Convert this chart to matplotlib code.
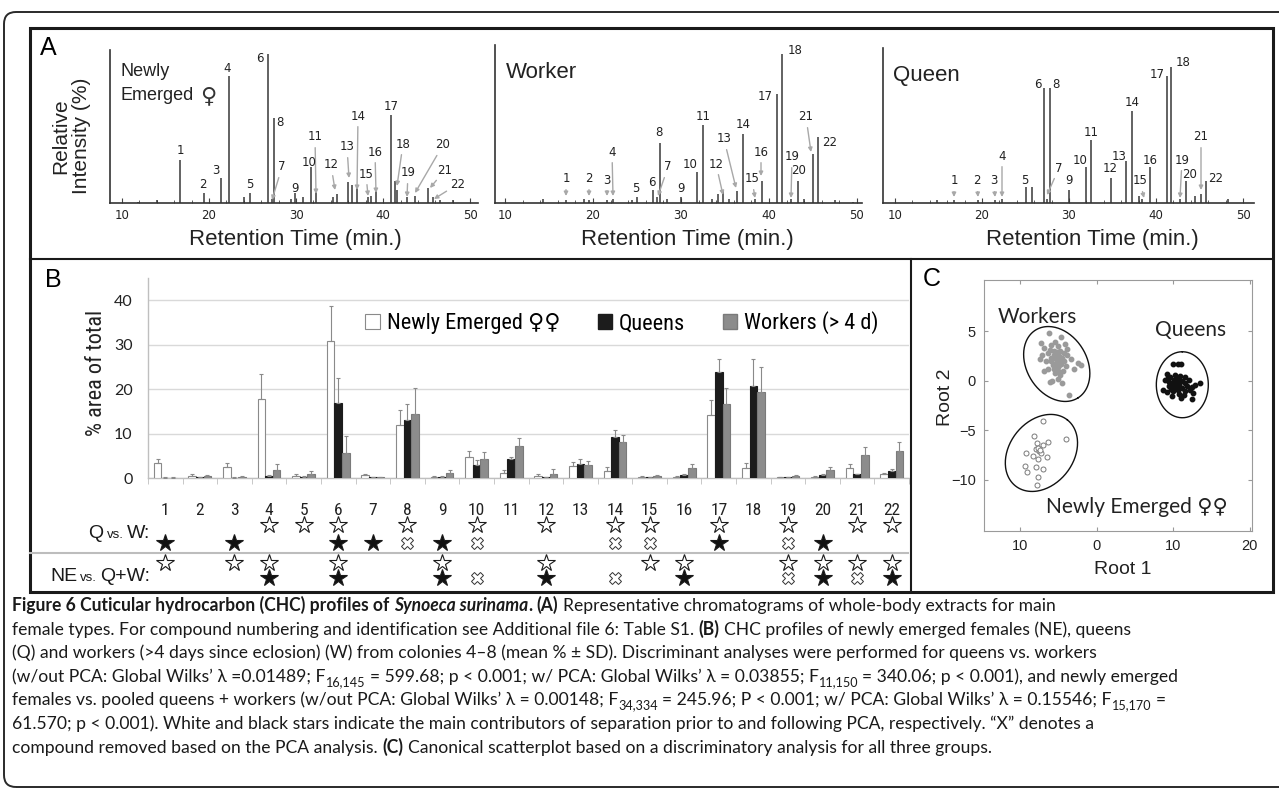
import matplotlib
matplotlib.use('Agg')
import matplotlib.pyplot as plt
from matplotlib import font_manager
from matplotlib.patches import Rectangle, FancyBboxPatch, Patch
from matplotlib.lines import Line2D
from matplotlib.transforms import IdentityTransform
from matplotlib.font_manager import FontProperties
import numpy as np

# ---------------- data ----------------
# Panel A: chromatogram peaks (retention time, relative intensity %)
ne_rt = [11.8, 14.0, 16.7, 19.4, 21.4, 22.3, 24.0, 24.7, 26.8, 27.2, 27.5, 29.4, 29.9, 30.8, 31.7, 32.3,
         34.2, 34.7, 36.0, 36.4, 37.0, 38.3, 38.6, 39.2, 40.9, 41.4, 41.6, 42.8, 43.7, 45.2, 45.7, 46.5, 48.0]
ne_h = [1, 2, 29, 7, 17, 85, 4, 7, 100, 3, 57, 3, 7, 4, 24, 8,
        4, 6, 14, 12, 10, 4, 5, 8, 59, 15, 9, 4, 5, 10, 4, 2, 2]
wk_rt = [14.3, 16.9, 19.0, 19.5, 21.6, 22.3, 24.4, 25.0, 26.8, 27.3, 27.6, 28.4, 30.0, 31.8, 32.5, 33.5,
         34.2, 34.8, 35.5, 36.4, 37.0, 38.4, 39.2, 40.9, 41.5, 42.5, 43.3, 44.0, 45.0, 45.6, 47.5, 49.5]
wk_h = [3, 2, 3, 2, 2, 3, 2, 4, 9, 4, 40, 3, 4, 21, 52, 3,
        6, 9, 3, 8, 46, 3, 15, 73, 100, 3, 15, 3, 33, 44, 2, 1]
qn_rt = [14.8, 16.8, 19.5, 21.5, 22.3, 25.1, 25.7, 27.1, 27.5, 27.8, 30.0, 32.0, 32.5, 34.8, 36.6, 37.2,
         38.0, 38.4, 39.3, 41.3, 41.7, 42.8, 43.5, 44.5, 45.2, 45.7, 48.3]
qn_h = [2, 2, 2, 2, 3, 11, 11, 77, 3, 77, 9, 24, 42, 17, 28, 62,
        5, 3, 24, 85, 91, 3, 15, 5, 6, 15, 3]
rt_ticks = [10, 20, 30, 40, 50]

# Panel B: % area of total (mean and SD) for compounds 1-22
compounds = list(range(1, 23))
ne_mean = [3.4, 0.5, 2.5, 17.8, 0.5, 30.8, 0.6, 12.0, 0.3, 4.7, 1.1, 0.4, 2.7, 1.6, 0.3, 0.2, 14.2, 2.2, 0.2, 0.3, 2.3, 0.8]
ne_sd = [0.9, 0.3, 0.8, 5.6, 0.3, 7.9, 0.2, 3.3, 0.2, 1.3, 0.6, 0.4, 0.8, 0.8, 0.1, 0.2, 3.3, 1.1, 0.1, 0.2, 0.8, 0.3]
q_mean = [0.1, 0.2, 0.1, 0.4, 0.3, 16.9, 0.2, 13.0, 0.3, 3.0, 4.3, 0.2, 3.2, 9.3, 0.2, 0.7, 23.8, 20.7, 0.2, 0.6, 0.8, 1.6]
q_sd = [0.1, 0.1, 0.1, 0.2, 0.1, 5.6, 0.1, 3.6, 0.2, 1.0, 0.4, 0.1, 1.1, 1.4, 0.1, 0.2, 2.9, 6.0, 0.1, 0.2, 0.2, 0.4]
w_mean = [0.1, 0.4, 0.3, 1.8, 0.8, 5.6, 0.2, 14.3, 1.2, 4.3, 7.2, 1.0, 2.9, 8.1, 0.5, 2.2, 16.6, 19.3, 0.5, 1.8, 5.2, 6.0]
w_sd = [0.1, 0.3, 0.2, 1.3, 0.8, 3.9, 0.1, 5.9, 0.7, 1.6, 1.8, 1.0, 1.0, 1.5, 0.2, 0.9, 3.6, 5.6, 0.2, 0.6, 1.8, 2.2]
legend_labels = ['Newly Emerged \u2640\u2640', 'Queens', 'Workers (> 4 d)']
b_yticks = [0, 10, 20, 30, 40]

# Star markers (compound numbers)
qw_white = [4, 5, 6, 8, 10, 12, 14, 15, 17, 19, 21, 22]
qw_black = [1, 3, 6, 7, 9, 17, 20]
qw_x = [8, 10, 14, 15, 19]
ne_white = [1, 3, 4, 6, 9, 12, 15, 16, 19, 20, 21, 22]
ne_black = [4, 6, 9, 12, 16, 20, 22]
ne_x = [10, 14, 19, 21]

# Panel C: canonical scores (Root 1, Root 2)
wk_r1 = [-6.2, -4.6, -7.3, -6.8, -5.9, -5.4, -5.0, -4.8, -5.6, -6.3, -7.1, -7.4, -6.6, -6.0, -5.5, -5.2, -4.9,
         -4.5, -4.2, -3.8, -3.4, -2.4, -2.0, -3.0, -4.0, -4.6, -5.1, -5.7, -6.3, -6.8, -5.4, -4.8, -4.4, -5.0,
         -4.5, -6.1, -5.8, -3.6, -5.3, -4.7, -5.9, -5.0, -4.3, -5.6, -6.1, -3.9, -4.1, -5.2, -4.9, -5.5]
wk_r2 = [4.8, 4.4, 3.8, 3.3, 3.6, 3.9, 3.5, 3.0, 3.0, 2.8, 2.6, 2.2, 2.0, 2.3, 2.6, 2.2, 2.5,
         2.3, 2.0, 2.6, 2.2, 1.8, 1.6, 1.2, 1.5, 1.7, 1.4, 1.6, 1.2, 1.0, 0.8, 0.6, 1.0, 0.2,
         -0.2, -0.1, 0.0, -1.4, 1.8, 2.0, 2.0, 1.0, 2.8, 2.3, 3.1, 3.2, 3.7, 2.9, 1.6, 1.2]
qn_r1 = [10.0, 10.6, 11.0, 9.2, 9.6, 10.3, 10.9, 11.5, 8.9, 9.4, 9.8, 10.1, 10.5, 10.8, 11.2, 11.6, 12.1,
         12.9, 13.5, 8.7, 9.2, 9.7, 10.2, 10.6, 11.1, 11.5, 12.2, 12.6, 9.9, 10.8, 11.4, 12.4, 9.5, 10.4,
         10.0, 11.8, 10.7, 9.3, 12.5, 11.0]
qn_r2 = [1.7, 1.7, 1.7, 0.7, 0.4, 0.6, 0.5, 0.4, 0.1, -0.1, -0.3, 0.1, -0.1, -0.4, 0.0, -0.2, 0.1,
         -0.4, -0.2, -0.9, -1.1, -0.8, -0.6, -0.9, -0.7, -1.0, -0.9, -1.2, -1.5, -1.3, -1.4, -1.8, -0.5, -0.3,
         -1.0, -0.5, 0.2, 0.3, -0.6, -1.7]
nw_r1 = [-7.0, -8.2, -7.8, -7.9, -6.4, -7.0, -7.5, -7.3, -9.2, -8.3, -7.7, -6.5, -4.0, -9.4, -9.1,
         -7.9, -7.0, -7.6, -7.8, -7.6, -7.4]
nw_r2 = [-4.1, -5.6, -6.3, -6.9, -6.2, -6.5, -7.1, -7.3, -7.3, -7.6, -7.9, -7.7, -5.9, -8.6, -9.2,
         -8.7, -8.9, -9.7, -10.5, -6.8, -7.0]
c_xticks = [-10, 0, 10, 20]
c_xticklabels = ['10', '0', '10', '20']
c_yticks = [5, 0, -5, -10]

# ---------------- setup ----------------
W, H = 1279, 793
fig = plt.figure(figsize=(W / 100, H / 100), dpi=100)
have = {f.name for f in font_manager.fontManager.ttflist}


def avail(names, default):
    for n in names:
        if n in have:
            return n
    return default


SANS = avail(['Liberation Sans', 'Arial'], 'DejaVu Sans')
NARROW = avail(['Liberation Sans Narrow', 'Arial Narrow', 'Roboto Condensed'], 'Lato')
LATO = avail(['Lato', 'Open Sans'], 'DejaVu Sans')
CAP = avail(['Lato', 'Roboto', 'Open Sans'], 'DejaVu Sans')
FB = 'DejaVu Sans'


def axes_px(l, t, r, b):
    return fig.add_axes([l / W, 1 - b / H, (r - l) / W, (b - t) / H])


def ftext(x, y, s, **kw):
    return fig.text(x / W, 1 - y / H, s, **kw)


def fline(x1, y1, x2, y2, **kw):
    fig.add_artist(Line2D([x1 / W, x2 / W], [1 - y1 / H, 1 - y2 / H], transform=fig.transFigure, **kw))


renderer = fig.canvas.get_renderer()

# ---------------- frames ----------------
fig.add_artist(FancyBboxPatch((4, H - 787), 1296, 775, boxstyle='round,pad=0,rounding_size=12',
                              transform=IdentityTransform(), fill=False, ec='#2a2a2a', lw=1.4))
fig.add_artist(Rectangle((30, H - 592), 1243, 564, transform=IdentityTransform(), fill=False,
                         ec='#1a1a1a', lw=2.2))
fline(30, 259, 1273, 259, color='#1a1a1a', lw=1.5)
fline(911, 259, 911, 592, color='#1a1a1a', lw=1.5)

# ---------------- panel A ----------------
ftext(48, 48, 'A', fontsize=18, family=SANS, ha='center', va='center')
ftext(71, 136, 'Relative\nIntensity (%)', fontsize=15, family=SANS, rotation=90, ha='center',
      va='center', linespacing=1.15, color='#222')


def chrom(box, xlim, ytop, rts, hts, labels):
    ax = axes_px(*box)
    ax.vlines(rts, 0, hts, color='#383838', lw=1.1)
    ax.set_xlim(*xlim)
    ax.set_ylim(0, ytop)
    for s in ['top', 'right']:
        ax.spines[s].set_visible(False)
    for s in ['left', 'bottom']:
        ax.spines[s].set_color('#333333')
        ax.spines[s].set_linewidth(1.2)
    ax.set_yticks([])
    ax.set_xticks(rt_ticks)
    ax.set_xticks(np.arange(10, 51, 2), minor=True)
    ax.tick_params(axis='x', which='both', direction='in', length=2.5, color='#444', pad=4)
    ax.tick_params(axis='x', which='major', length=3.5)
    for lab in ax.get_xticklabels():
        lab.set_fontsize(8.5)
        lab.set_family('DejaVu Sans')
        lab.set_color('#222')
    ax.patch.set_alpha(0)
    for num, (lx, ly, tx, ty) in labels.items():
        if tx is None:
            ftext(lx, ly, str(num), fontsize=8.5, family='DejaVu Sans', ha='center', va='center',
                  color='#222')
        else:
            ax.annotate(str(num), xy=(tx, H - ty), xycoords='figure pixels', xytext=(lx, H - ly),
                        textcoords='figure pixels', ha='center', va='center', fontsize=8.5,
                        family='DejaVu Sans', color='#222',
                        arrowprops=dict(arrowstyle='-|>', color='#a8a8a8', lw=1.0, mutation_scale=6,
                                        shrinkA=1, shrinkB=0))
    return ax


N = None
ne_labels = {1: (180, 151, N, N), 2: (203, 185, N, N), 3: (216, 171, N, N), 4: (227, 69, N, N),
             5: (250, 184, N, N), 6: (260, 58, N, N), 7: (282, 167, 272, 200), 8: (280, 122, N, N),
             9: (295, 188, N, N), 10: (309, 162, N, N), 11: (315, 137, 316, 194), 12: (331, 165, 335, 190),
             13: (347, 147, 349, 178), 14: (358, 116, 357, 190), 15: (366, 174, 368, 196),
             16: (375, 152, 376, 193), 17: (391, 106, N, N), 18: (403, 144, 397, 186),
             19: (408, 173, 407, 197), 20: (443, 145, 415, 193), 21: (445, 170, 430, 188),
             22: (458, 184, 434, 199)}
wk_labels = {1: (566, 179, 566, 196), 2: (589, 179, 589, 196), 3: (607, 180, 607, 196),
             4: (612, 152, 613, 196), 5: (636, 189, N, N), 6: (652, 183, N, N), 7: (668, 167, 658, 196),
             8: (659, 133, N, N), 9: (681, 189, N, N), 10: (690, 164, N, N), 11: (703, 117, N, N),
             12: (716, 164, 723, 195), 13: (724, 139, 736, 188), 14: (743, 124, N, N),
             15: (752, 179, 755, 198), 16: (761, 152, 761, 176), 17: (765, 97, N, N), 18: (795, 50, N, N),
             19: (792, 157, 791, 198), 20: (799, 171, N, N), 21: (806, 117, 811, 152), 22: (830, 143, N, N)}
qn_labels = {1: (954, 181, 954, 197), 2: (977, 181, 978, 197), 3: (994, 181, 995, 197),
             4: (1002, 156, 1002, 197), 5: (1025, 180, N, N), 6: (1038, 85, N, N),
             7: (1059, 168, 1047, 195), 8: (1056, 85, N, N), 9: (1069, 181, N, N), 10: (1080, 160, N, N),
             11: (1091, 132, N, N), 12: (1110, 169, N, N), 13: (1119, 156, N, N), 14: (1132, 102, N, N),
             15: (1140, 181, 1144, 198), 16: (1150, 160, N, N), 17: (1157, 75, N, N), 18: (1183, 63, N, N),
             19: (1182, 160, 1180, 198), 20: (1190, 174, N, N), 21: (1201, 137, 1201, 190),
             22: (1216, 178, N, N)}

chrom((110, 50, 478, 203), (8.62, 50.9), 102.7, ne_rt, ne_h, ne_labels)
chrom((495, 45, 862, 203), (8.86, 50.57), 106, wk_rt, wk_h, wk_labels)
chrom((883, 48, 1254, 203), (8.62, 51.26), 104, qn_rt, qn_h, qn_labels)

ftext(121, 72, 'Newly', fontsize=13, family=SANS, ha='left', va='center', color='#222')
t_em = ftext(121, 95, 'Emerged', fontsize=13, family=SANS, ha='left', va='center', color='#222')
x_em = t_em.get_window_extent(renderer).x1
ftext(x_em + 6, 96, '\u2640', fontsize=16, family=FB, ha='left', va='center', color='#333')
ftext(506, 73, 'Worker', fontsize=16, family=SANS, ha='left', va='center', color='#222')
ftext(893, 75, 'Queen', fontsize=16, family=SANS, ha='left', va='center', color='#222')
for cx in [295, 687, 1092]:
    ftext(cx, 240, 'Retention Time (min.)', fontsize=16, family=SANS, ha='center', va='center',
          color='#222')

# ---------------- panel B ----------------
ftext(53, 280, 'B', fontsize=18, family=SANS, ha='center', va='center')
axb = axes_px(148, 278, 909, 478)
x = np.arange(1, 23)
bw = 0.22
zeros = np.zeros(22)
ekw = dict(ecolor='#8a8a8a', elinewidth=0.8, capsize=1.5, capthick=0.8)
axb.bar(x - bw, ne_mean, bw, color='white', edgecolor='#8a8a8a', lw=0.8,
        yerr=[zeros, ne_sd], error_kw=ekw, zorder=3)
axb.bar(x, q_mean, bw, color='#1c1c1c', edgecolor='#1c1c1c', lw=0.8,
        yerr=[zeros, q_sd], error_kw=ekw, zorder=3)
axb.bar(x + bw, w_mean, bw, color='#8c8c8c', edgecolor='#7a7a7a', lw=0.8,
        yerr=[zeros, w_sd], error_kw=ekw, zorder=3)
axb.set_xlim(0.5, 22.5)
axb.set_ylim(0, 45)
axb.set_yticks(b_yticks)
axb.yaxis.grid(True, color='#d9d9d9', lw=1)
axb.set_axisbelow(True)
for s in ['top', 'right']:
    axb.spines[s].set_visible(False)
for s in ['left', 'bottom']:
    axb.spines[s].set_color('#bfbfbf')
    axb.spines[s].set_linewidth(1.0)
axb.set_xticks(x)
axb.set_xticklabels([str(c) for c in compounds])
axb.set_xticks(np.arange(0.5, 23, 1), minor=True)
axb.tick_params(axis='x', which='major', length=0, pad=18)
axb.tick_params(axis='x', which='minor', length=4, color='#bfbfbf', direction='out')
axb.tick_params(axis='y', length=0, pad=11)
for lab in axb.get_xticklabels():
    lab.set_fontsize(12.5)
    lab.set_family(NARROW)
    lab.set_color('#222')
for lab in axb.get_yticklabels():
    lab.set_fontsize(11.5)
    lab.set_family(LATO)
    lab.set_color('#222')
axb.patch.set_alpha(0)
ftext(97, 373, '% area of total', fontsize=16, family=NARROW, rotation=90, ha='center', va='center',
      color='#222')
handles = [Patch(fc='white', ec='#8a8a8a', lw=0.8), Patch(fc='#1c1c1c', ec='#1c1c1c'),
           Patch(fc='#8c8c8c', ec='#7a7a7a')]
axb.legend(handles, legend_labels, ncol=3, frameon=False, loc='center',
           bbox_to_anchor=(622 / W, 1 - 323 / H), bbox_transform=fig.transFigure,
           prop=FontProperties(family=[NARROW, FB], size=16), handlelength=0.65, handleheight=0.65,
           handletextpad=0.3, columnspacing=1.7)

# star rows
axs = axes_px(148, 512, 909, 592)
axs.set_xlim(0.5, 22.5)
axs.set_ylim(592, 512)
axs.axis('off')
star = dict(ls='none', marker='*', ms=13, mec='#1a1a1a', mew=0.8)
crs = dict(ls='none', marker='X', ms=9, mfc='white', mec='#333', mew=0.7)
axs.plot(qw_white, [525] * len(qw_white), mfc='white', **star)
axs.plot(qw_black, [543] * len(qw_black), mfc='#111', **star)
axs.plot(qw_x, [543] * len(qw_x), **crs)
axs.plot(ne_white, [563] * len(ne_white), mfc='white', **star)
axs.plot(ne_black, [578] * len(ne_black), mfc='#111', **star)
axs.plot(ne_x, [578] * len(ne_x), **crs)
fline(30, 553, 908, 553, color='#bdbdbd', lw=1.5)


def pieces_right(xr, yc, pieces):
    xcur = xr
    for s, size in reversed(pieces):
        t = ftext(xcur, yc, s, fontsize=size, family=SANS, ha='right', va='baseline', color='#1a1a1a')
        bb = t.get_window_extent(renderer)
        xcur = bb.x0 - 3


pieces_right(150, 538, [('Q', 14), ('vs.', 9.5), ('W:', 14)])
pieces_right(150, 581, [('NE', 14), ('vs.', 9.5), ('Q+W:', 14)])

# ---------------- panel C ----------------
ftext(932, 279, 'C', fontsize=18, family=SANS, ha='center', va='center')
axc = axes_px(984, 280, 1252, 531)
axc.set_xlim(-14.7, 20.3)
axc.set_ylim(-15.2, 10.2)
axc.plot(wk_r1, wk_r2, 'o', ms=3.2, color='#9a9a9a', mec='#9a9a9a')
axc.plot(qn_r1, qn_r2, 'o', ms=3.2, color='#111', mec='#111')
axc.plot(nw_r1, nw_r2, 'o', ms=3.6, mfc='white', mec='#7a7a7a', mew=0.7)
ppx = 268 / 35.0
ppy = 251 / 25.4


def ellipse(cx, cy, a, b, ang):
    t = np.linspace(0, 2 * np.pi, 200)
    u, v = a * np.cos(t), b * np.sin(t)
    th = np.deg2rad(ang)
    dx = u * np.cos(th) - v * np.sin(th)
    dy = u * np.sin(th) + v * np.cos(th)
    axc.plot(cx + dx / ppx, cy + dy / ppy, color='#111', lw=1.0)


ellipse(-5.2, 1.7, 40, 30, -58)
ellipse(11.2, -0.4, 33, 26, 90)
ellipse(-7.2, -7.3, 42, 32, 52)
axc.set_xticks(c_xticks)
axc.set_xticklabels(c_xticklabels)
axc.set_yticks(c_yticks)
axc.tick_params(direction='in', top=True, right=True, length=3, color='#999', labelsize=10.5, pad=6)
for lab in axc.get_xticklabels() + axc.get_yticklabels():
    lab.set_family(SANS)
    lab.set_color('#222')
for s in axc.spines.values():
    s.set_color('#9a9a9a')
ftext(1037, 317, 'Workers', fontsize=15, family=[LATO, FB], ha='center', va='center', color='#222')
ftext(1191, 330, 'Queens', fontsize=15, family=[LATO, FB], ha='center', va='center', color='#222')
ftext(1137, 507, 'Newly Emerged \u2640\u2640', fontsize=15, family=[LATO, FB], ha='center',
      va='center', color='#222')
ftext(1123, 570, 'Root 1', fontsize=14, family=SANS, ha='center', va='center', color='#222')
ftext(945, 397, 'Root 2', fontsize=14, family=SANS, ha='center', va='center', rotation=90,
      color='#222')

# ---------------- caption ----------------
B = dict(weight='bold')
BI = dict(weight='bold', style='italic')
R = dict()
SUB = dict(scale=0.72, dy=4)
cap_lines = [
    [('Figure 6 Cuticular hydrocarbon (CHC) profiles of ', B), ('Synoeca surinama', BI), ('.', B),
     (' (A)', B), (' Representative chromatograms of whole-body extracts for main', R)],
    [('female types. For compound numbering and identification see Additional file 6: Table S1. ', R),
     ('(B)', B), (' CHC profiles of newly emerged females (NE), queens', R)],
    [('(Q) and workers (>4 days since eclosion) (W) from colonies 4\u20138 (mean % \u00b1 SD). '
      'Discriminant analyses were performed for queens vs. workers', R)],
    [('(w/out PCA: Global Wilks\u2019 \u03bb =0.01489; F', R), ('16,145', SUB),
     (' = 599.68; p < 0.001; w/ PCA: Global Wilks\u2019 \u03bb = 0.03855; F', R), ('11,150', SUB),
     (' = 340.06; p < 0.001), and newly emerged', R)],
    [('females vs. pooled queens + workers (w/out PCA: Global Wilks\u2019 \u03bb = 0.00148; F', R),
     ('34,334', SUB), (' = 245.96; P < 0.001; w/ PCA: Global Wilks\u2019 \u03bb = 0.15546; F', R),
     ('15,170', SUB), (' =', R)],
    [('61.570; p < 0.001). White and black stars indicate the main contributors of separation prior to '
      'and following PCA, respectively. \u201cX\u201d denotes a', R)],
    [('compound removed based on the PCA analysis. ', R), ('(C)', B),
     (' Canonical scatterplot based on a discriminatory analysis for all three groups.', R)],
]
cap_y = [607, 631, 654, 678, 701, 725, 749]


def measure(s, size, **kw):
    t = fig.text(0, 0, s, fontsize=size, family=[CAP, FB], **kw)
    w = t.get_window_extent(renderer).width
    t.remove()
    return w


base = 12.0
w3 = measure(cap_lines[2][0][0], base)
cap_size = base * 1081.0 / w3


def rich_line(x0, yc, pieces, size):
    sp = measure('x x', size) - measure('xx', size)
    xc = x0
    for s, kw in pieces:
        sz = size * kw.get('scale', 1.0)
        lead = len(s) - len(s.lstrip(' '))
        trail = len(s) - len(s.rstrip(' '))
        xc += lead * sp
        t = ftext(xc, yc + 4 + kw.get('dy', 0), s.strip(' '), fontsize=sz, family=[CAP, FB],
                  weight=kw.get('weight', 'normal'), style=kw.get('style', 'normal'),
                  ha='left', va='baseline', color='#1a1a1a')
        bb = t.get_window_extent(renderer)
        xc = bb.x1 + trail * sp


for yc, line in zip(cap_y, cap_lines):
    rich_line(12, yc, line, cap_size)

fig.savefig('out.png', dpi=100)
